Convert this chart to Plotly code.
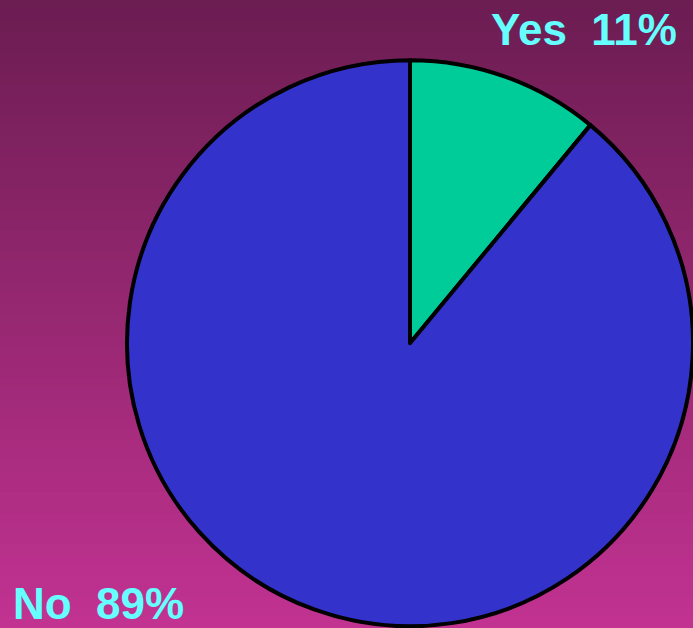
import plotly.graph_objects as go

# Survey answers (percent)
labels = ["Yes", "No"]
values = [11, 89]
slice_colors = ["#00cc99", "#3333cc"]

W, H = 693, 628

fig = go.Figure(
    go.Pie(
        labels=labels,
        values=values,
        sort=False,
        direction="clockwise",
        rotation=0,
        marker=dict(colors=slice_colors, line=dict(color="#000000", width=4)),
        textinfo="none",
        hoverinfo="none",
        showlegend=False,
        domain=dict(x=[127 / W, 1.0], y=[0.0, 0.907]),
    )
)

# Vertical background gradient built from overlapping horizontal bands
top = (108, 29, 82)
bot = (193, 50, 145)
n = 60
shapes = []
for i in range(n):
    t = i / (n - 1)
    c = tuple(round(top[k] + (bot[k] - top[k]) * t) for k in range(3))
    shapes.append(
        dict(
            type="rect", xref="paper", yref="paper",
            x0=0, x1=1, y0=max(0, 1 - (i + 1.6) / n), y1=1 - i / n,
            fillcolor="rgb(%d,%d,%d)" % c, line=dict(width=0), layer="below",
        )
    )

label_font = dict(family="Liberation Sans, Arial, sans-serif", size=44, color="#66ffff")
annotations = [
    dict(
        text=f"<b>{labels[0]}  {values[0]}%</b>", xref="paper", yref="paper",
        x=489 / W, y=1.0, xanchor="left", yanchor="top", showarrow=False,
        font=label_font, yshift=-3,
    ),
    dict(
        text=f"<b>{labels[1]}  {values[1]}%</b>", xref="paper", yref="paper",
        x=11 / W, y=0.0, xanchor="left", yanchor="bottom", showarrow=False,
        font=label_font, yshift=-2,
    ),
]

fig.update_layout(
    width=W, height=H,
    margin=dict(l=0, r=0, t=0, b=0),
    paper_bgcolor="#6c1d52",
    plot_bgcolor="rgba(0,0,0,0)",
    shapes=shapes,
    annotations=annotations,
)

fig.write_html("out.html")
